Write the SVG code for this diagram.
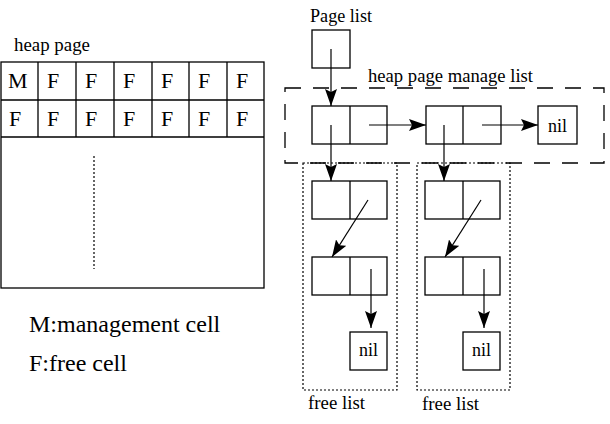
<svg xmlns="http://www.w3.org/2000/svg" width="610" height="424" viewBox="0 0 610 424">
<style>
.box{fill:#fff;stroke:#000;stroke-width:1.3}
.ln{fill:none;stroke:#000;stroke-width:1.3}
.t{font-family:"Liberation Serif","Times New Roman",serif;fill:#000}
.lab{font-size:18px}
.cell{font-size:22px}
.big{font-size:24px}
.dash{fill:none;stroke:#000;stroke-width:1.3;stroke-dasharray:16 12}
.dot{fill:none;stroke:#000;stroke-width:1.2;stroke-dasharray:2 2}
.arr{fill:none;stroke:#000;stroke-width:1.2;marker-end:url(#ah)}
</style>
<defs>
<marker id="ah" markerUnits="userSpaceOnUse" markerWidth="17" markerHeight="12" refX="17" refY="6" orient="auto">
<path d="M0,0 L17,6 L0,12 L3,6 z" fill="#000"/>
</marker>
</defs>
<rect width="610" height="424" fill="#fff"/>

<g id="heap-page">
<text class="t lab" x="14" y="51" textLength="76" lengthAdjust="spacingAndGlyphs">heap page</text>
<rect class="box" x="1" y="62" width="263" height="226"/>
<path class="ln" d="M1,100 H264 M1,137 H264 M38,62 V137 M76,62 V137 M114,62 V137 M152,62 V137 M189,62 V137 M227,62 V137"/>
<g class="t cell">
<text x="8" y="88">M</text><text x="47" y="88">F</text><text x="85" y="88">F</text><text x="123" y="88">F</text><text x="161" y="88">F</text><text x="198" y="88">F</text><text x="236" y="88">F</text>
<text x="9" y="126">F</text><text x="47" y="126">F</text><text x="85" y="126">F</text><text x="123" y="126">F</text><text x="161" y="126">F</text><text x="198" y="126">F</text><text x="236" y="126">F</text>
</g>
<line class="dot" x1="94" y1="156" x2="94" y2="269"/>
</g>

<g id="legend">
<text class="t big" x="29" y="332">M:management cell</text>
<text class="t big" x="29" y="371">F:free cell</text>
</g>

<g id="page-list">
<text class="t lab" x="310" y="22" textLength="62" lengthAdjust="spacingAndGlyphs">Page list</text>
<rect class="box" x="312" y="30" width="38" height="38"/>
</g>

<g id="manage-list">
<rect class="dash" x="285" y="88" width="319" height="75"/>
<text class="t lab" x="368" y="82" textLength="165" lengthAdjust="spacingAndGlyphs">heap page manage list</text>
</g>

<g id="node1">
<rect class="box" x="312" y="106" width="75" height="38"/>
<line class="ln" x1="350" y1="106" x2="350" y2="144"/>
</g>
<g id="node2">
<rect class="box" x="426" y="106" width="75" height="38"/>
<line class="ln" x1="463" y1="106" x2="463" y2="144"/>
</g>
<g id="nil-main">
<rect class="box" x="538" y="106" width="39" height="38"/>
<text class="t lab" x="557.5" y="132" text-anchor="middle">nil</text>
</g>

<g id="free-list-1">
<rect class="dot" x="303" y="163" width="94" height="227"/>
<text class="t lab" x="308" y="409" textLength="57" lengthAdjust="spacingAndGlyphs">free list</text>
</g>
<g id="free-list-2">
<rect class="dot" x="417" y="163" width="93" height="227"/>
<text class="t lab" x="422" y="410" textLength="57" lengthAdjust="spacingAndGlyphs">free list</text>
</g>

<g id="f1a"><rect class="box" x="312" y="181" width="75" height="38"/><line class="ln" x1="350" y1="181" x2="350" y2="219"/></g>
<g id="f1b"><rect class="box" x="312" y="257" width="75" height="38"/><line class="ln" x1="350" y1="257" x2="350" y2="295"/></g>
<g id="f1nil"><rect class="box" x="350" y="332" width="37" height="38"/><text class="t lab" x="368.5" y="356" text-anchor="middle">nil</text></g>
<g id="f2a"><rect class="box" x="425" y="181" width="75" height="38"/><line class="ln" x1="463" y1="181" x2="463" y2="219"/></g>
<g id="f2b"><rect class="box" x="425" y="257" width="75" height="38"/><line class="ln" x1="463" y1="257" x2="463" y2="295"/></g>
<g id="f2nil"><rect class="box" x="463" y="332" width="37" height="38"/><text class="t lab" x="481.5" y="356" text-anchor="middle">nil</text></g>

<g id="connectors">
<line class="arr" x1="331" y1="49" x2="331" y2="106"/>
<line class="arr" x1="369" y1="125" x2="426" y2="125"/>
<line class="arr" x1="482" y1="125" x2="538" y2="125"/>
<line class="arr" x1="331" y1="125" x2="331" y2="181"/>
<line class="arr" x1="444" y1="125" x2="444" y2="181"/>
<line class="arr" x1="368" y1="200" x2="332" y2="257"/>
<line class="arr" x1="481" y1="200" x2="445" y2="257"/>
<line class="arr" x1="371" y1="269" x2="371" y2="328"/>
<line class="arr" x1="484" y1="269" x2="484" y2="328"/>
</g>
</svg>
